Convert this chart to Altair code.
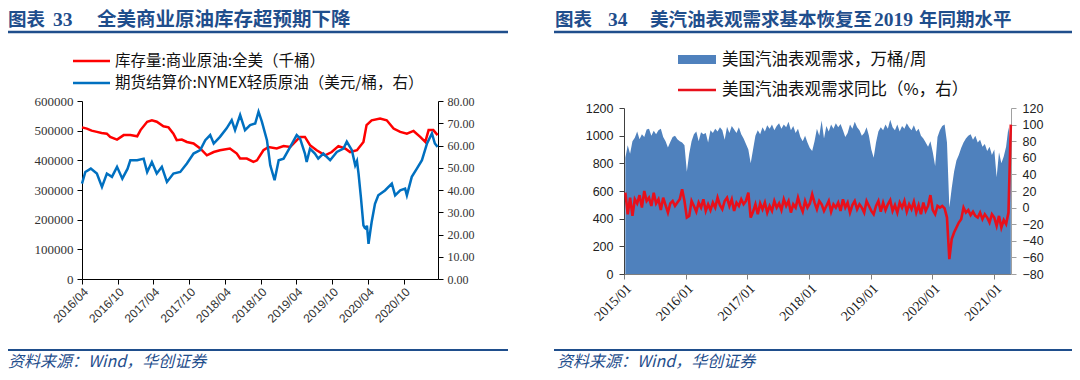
import altair as alt
import pandas as pd

# ---------------- left panel data ----------------
inv_dates = ["2016-04-01", "2016-04-26", "2016-05-20", "2016-06-16", "2016-07-10", "2016-08-06",
             "2016-08-23", "2016-09-27", "2016-10-31", "2016-12-04", "2017-01-08", "2017-01-25",
             "2017-02-28", "2017-03-24", "2017-04-18", "2017-05-22", "2017-06-17", "2017-07-12",
             "2017-07-29", "2017-08-24", "2017-09-19", "2017-10-23", "2017-11-26", "2017-12-30",
             "2018-02-03", "2018-03-07", "2018-04-27", "2018-06-01", "2018-06-18", "2018-07-22",
             "2018-08-25", "2018-09-12", "2018-10-15", "2018-11-10", "2018-12-22", "2019-01-26",
             "2019-03-01", "2019-04-20", "2019-05-15", "2019-06-10", "2019-07-14", "2019-08-26",
             "2019-09-29", "2019-11-02", "2019-12-06", "2020-01-01", "2020-02-05", "2020-03-09",
             "2020-03-25", "2020-04-20", "2020-06-02", "2020-07-06", "2020-08-10", "2020-09-13",
             "2020-10-17", "2020-11-20", "2020-12-24", "2021-01-19", "2021-02-05", "2021-03-01",
             "2021-03-23"]
inv_vals = [511000, 507000, 500000, 496000, 492000, 490000,
            479000, 470000, 485000, 485000, 481000, 502000,
            530000, 535000, 530000, 515000, 511000, 490000,
            468000, 470000, 462000, 457000, 440000, 417000,
            428000, 434000, 440000, 423000, 406000, 406000,
            395000, 400000, 434000, 445000, 440000, 448000,
            445000, 479000, 479000, 451000, 434000, 417000,
            428000, 448000, 440000, 428000, 434000, 462000,
            519000, 535000, 541000, 535000, 507000, 496000,
            490000, 499000, 479000, 462000, 502000, 502000,
            485000]

wti_dates = ["2016-04-01", "2016-04-18", "2016-05-16", "2016-06-16", "2016-07-12", "2016-08-06",
             "2016-09-01", "2016-09-27", "2016-10-24", "2016-11-20", "2016-12-04", "2017-01-08",
             "2017-02-10", "2017-02-28", "2017-03-24", "2017-04-18", "2017-05-14", "2017-06-09",
             "2017-07-12", "2017-08-16", "2017-09-19", "2017-10-23", "2017-11-26", "2017-12-22",
             "2018-01-16", "2018-02-03", "2018-03-07", "2018-04-10", "2018-05-06", "2018-05-23",
             "2018-06-18", "2018-07-13", "2018-08-08", "2018-09-03", "2018-09-20", "2018-10-07",
             "2018-11-02", "2018-11-19", "2018-12-11", "2019-01-01", "2019-01-26", "2019-03-01",
             "2019-04-03", "2019-04-20", "2019-05-15", "2019-05-24", "2019-06-10", "2019-07-05",
             "2019-07-22", "2019-08-17", "2019-09-21", "2019-10-25", "2019-11-28", "2019-12-15",
             "2020-01-10", "2020-01-27", "2020-02-05", "2020-02-13", "2020-02-25", "2020-03-09",
             "2020-03-16", "2020-03-22", "2020-03-27", "2020-04-04", "2020-04-14", "2020-04-20",
             "2020-05-07", "2020-05-24", "2020-06-27", "2020-08-01", "2020-08-18", "2020-09-13",
             "2020-10-08", "2020-10-17", "2020-11-11", "2020-12-07", "2021-01-02", "2021-01-28",
             "2021-02-22", "2021-03-09", "2021-03-23"]
wti_vals = [42.9, 48.1, 49.6, 47.4, 41.4, 47.4,
            45.9, 50.4, 45.1, 49.6, 53.4, 53.4,
            54.1, 48.1, 52.6, 47.4, 50.4, 43.6,
            47.4, 48.1, 51.9, 56.4, 57.9, 62.4,
            64.7, 60.9, 63.9, 67.7, 71.4, 66.9,
            73.7, 66.9, 69.2, 69.9, 75.2, 70.7,
            62.4, 51.1, 44.4, 53.4, 54.1, 59.4,
            64.7, 63.2, 56.4, 52.6, 58.6, 56.4,
            54.1, 56.4, 53.4, 57.1, 58.6, 61.7,
            57.9, 51.1, 53.0, 47.4, 36.8, 24.1,
            23.0, 22.6, 24.0, 15.8, 22.0, 25.6,
            33.8, 37.6, 39.8, 42.9, 37.6, 39.8,
            40.6, 37.6, 45.9, 49.6, 53.4, 60.9,
            65.4, 60.9, 59.4]

left_ticks = ["2016-04", "2016-10", "2017-04", "2017-10", "2018-04",
              "2018-10", "2019-04", "2019-10", "2020-04", "2020-10"]

# ---------------- right panel data (bi-weekly, first week 2015-01-09) ----------------
gas_start = "2015-01-09"
gas_demand = [
    840, 930, 870, 960, 985, 1030, 975, 1010, 990, 1045, 1050, 1000, 1035, 1010, 1040, 1050,
    990, 960, 915, 955, 990, 1000, 975, 960, 950, 930, 740,
    870, 960, 1010, 1030, 960, 1025, 1010, 1020, 950, 1040, 1020, 1050, 1030, 1060, 1040, 970,
    1065, 1020, 1070, 1045, 1020, 1060, 1010, 980, 940, 900, 800,
    900, 1000, 1040, 1010, 1060, 1030, 1075, 1050, 1080, 1040, 1070, 1090, 1050, 1080, 1060,
    1100, 1040, 1070, 1020, 1050, 990, 960, 1000, 950, 910,
    890, 960, 1050, 1000, 1110, 980, 1070, 1030, 1080, 1050, 1090, 1060, 1085, 1040, 990,
    1020, 1080, 1050, 1100, 1060, 1040, 1000, 1020, 1060, 1000, 900, 840,
    950, 1030, 1060, 1040, 1080, 1050, 1115, 1060, 1040, 1080, 1030, 1070, 1050, 1090, 1060,
    1040, 1075, 1030, 1050, 1000, 980, 950, 920, 960, 880, 780,
    990, 1040, 1070, 1080, 950, 480, 620, 740, 820, 860, 910, 950, 980, 1000, 1010, 970,
    1000, 950, 970, 920, 940, 890, 920, 860, 900, 700, 880, 800, 850, 920, 1060, 900]
gas_yoy = [
    18, -8, 12, -10, 10, 5, 15, 0, 20, 8, 12, 2, 18, 5, 10, -3, 12, 3, -6, 5, 8, 2, 6, 10, 22, 8, -12,
    -10, 8, 2, -5, 6, 0, 10, -4, 4, -3, 6, 0, 12, 3, -2, 8, 12, 2, 10, -4, 6, 2, 10, 4, 8, 18, -12,
    -5, 4, -8, 5, -2, 6, -6, 2, -4, 8, 0, 5, -3, 10, 2, 8, -6, 4, 0, 12, 2, -5, 8, 0, 5,
    16, 6, -2, 8, 4, -4, 2, 8, -5, 4, 0, 6, -4, 10, 0, 6, -6, 3, 8, -2, 4, 0, -6, 8, 2, -4, -8,
    2, 8, -5, 6, -3, 4, 9, -4, 3, -6, 6, 0, 8, -5, 4, -2, 7, -6, 3, -8, 6, -4, 2, 15, -3, -8,
    2, 0, 2, -1, -12, -62, -38, -30, -24, -18,
    -14, 0, -6, -3, -9, -5, -10, -12, -6, -14,
    -8, -12, -18, -8, -12, -22, -10, -24, -15, -20,
    -6, 100]

right_ticks = ["2015-01", "2016-01", "2017-01", "2018-01", "2019-01", "2020-01", "2021-01"]

# ---------------- frames ----------------
df_inv = pd.DataFrame({"date": pd.to_datetime(inv_dates), "v": inv_vals})
df_wti = pd.DataFrame({"date": pd.to_datetime(wti_dates), "v": wti_vals})
gas_dates = pd.date_range(gas_start, periods=len(gas_demand), freq="14D")
df_gas = pd.DataFrame({"date": gas_dates, "d": gas_demand, "y": gas_yoy})


def dt(s):
    parts = [int(p) for p in s.split("-")]
    if len(parts) == 2:
        parts.append(1)
    return alt.DateTime(year=parts[0], month=parts[1], date=parts[2])


CJK = "Noto Sans CJK SC"
TITLE_BLUE = "#1F4E8C"
W, H = 1064, 364

# plot-area geometry (chart coordinates)
L_X0, L_X1, L_Y0, L_Y1 = 74, 430, 271, 93
R_X0, R_X1, R_Y0, R_Y1 = 616, 1003, 266, 100

common = dict(grid=False, title=None, labelFlush=False, labelOverlap=False,
              tickSize=5, tickWidth=1, domainWidth=1)

xL_scale = alt.Scale(domain=[dt("2016-04-01"), dt("2021-03-25")], range=[L_X0, L_X1])
xR_scale = alt.Scale(domain=[dt("2015-01-01"), dt("2021-04-10")], range=[R_X0, R_X1])

inv_line = alt.Chart(df_inv).mark_line(color="#FF0000", strokeWidth=2.5).encode(
    x=alt.X("date:T", scale=xL_scale,
            axis=alt.Axis(orient="bottom", offset=L_Y0 - H, values=[dt(t) for t in left_ticks],
                          format="%Y/%m", labelAngle=-45, labelAlign="right", labelBaseline="top",
                          labelFont="Liberation Sans", labelFontSize=12, labelColor="#333333",
                          domainColor="#000000", tickColor="#000000", labelPadding=2, **common)),
    y=alt.Y("v:Q", scale=alt.Scale(domain=[0, 600000], range=[L_Y0, L_Y1], nice=False, zero=False),
            axis=alt.Axis(orient="left", offset=-L_X0, values=list(range(0, 600001, 100000)),
                          format="d", labelFont="Liberation Serif", labelFontSize=13,
                          labelColor="#333333", domainColor="#000000", tickColor="#000000",
                          labelPadding=4, **common)),
)

wti_line = alt.Chart(df_wti).mark_line(color="#0070C0", strokeWidth=2.5).encode(
    x=alt.X("date:T", scale=xL_scale, axis=None),
    y=alt.Y("v:Q", scale=alt.Scale(domain=[0, 80], range=[L_Y0, L_Y1], nice=False, zero=False),
            axis=alt.Axis(orient="right", offset=L_X1 - W, values=list(range(0, 81, 10)),
                          format=".2f", labelFont="Liberation Serif", labelFontSize=12,
                          labelColor="#333333", domainColor="#000000", tickColor="#000000",
                          labelPadding=4, **common)),
)

gas_area = alt.Chart(df_gas).mark_area(color="#4F81BD", opacity=1).encode(
    x=alt.X("date:T", scale=xR_scale,
            axis=alt.Axis(orient="bottom", offset=R_Y0 - H, values=[dt(t) for t in right_ticks],
                          format="%Y/%m", labelAngle=-45, labelAlign="right", labelBaseline="top",
                          labelFont="Liberation Serif", labelFontSize=14, labelColor="#222222",
                          domainColor="#7F7F7F", tickColor="#7F7F7F", labelPadding=2, **common)),
    y=alt.Y("d:Q", scale=alt.Scale(domain=[0, 1200], range=[R_Y0, R_Y1], nice=False),
            axis=alt.Axis(orient="left", offset=-R_X0, values=list(range(0, 1201, 200)),
                          format="d", labelFont="Liberation Sans", labelFontSize=12.5,
                          labelColor="#222222", domainColor="#404040", tickColor="#404040",
                          labelPadding=6, **common)),
)

gas_line = alt.Chart(df_gas).mark_line(color="#E8101B", strokeWidth=2.6).encode(
    x=alt.X("date:T", scale=xR_scale, axis=None),
    y=alt.Y("y:Q", scale=alt.Scale(domain=[-80, 120], range=[R_Y0, R_Y1], nice=False, zero=False),
            axis=alt.Axis(orient="right", offset=R_X1 - W, values=list(range(-80, 121, 20)),
                          format="d", labelFont="Liberation Sans", labelFontSize=12.5,
                          labelColor="#222222", domainColor="#A0A0A0", tickColor="#A0A0A0",
                          labelPadding=6, **common)),
)

one = pd.DataFrame({"a": [0]})


def text(s, x, y, size, color="#111111", font=CJK, weight="normal", style="normal"):
    return alt.Chart(pd.DataFrame({"t": [s]})).mark_text(
        align="left", baseline="middle", font=font, fontSize=size, fontWeight=weight,
        fontStyle=style, color=color).encode(x=alt.value(x), y=alt.value(y), text="t:N")


def hline(x0, x1, y, color, width):
    return alt.Chart(one).mark_rule(color=color, strokeWidth=width).encode(
        x=alt.value(x0), x2=alt.value(x1), y=alt.value(y))


TY = 12
decor = [
    # titles
    text("图表", 0, TY, 18.5, TITLE_BLUE, weight="bold"),
    text("33", 45, TY, 19.5, TITLE_BLUE, font="Liberation Serif", weight="bold"),
    text("全美商业原油库存超预期下降", 89, TY, 19.5, TITLE_BLUE, weight="bold"),
    text("图表", 547, TY, 18.5, TITLE_BLUE, weight="bold"),
    text("34", 600, TY, 19.5, TITLE_BLUE, font="Liberation Serif", weight="bold"),
    text("美汽油表观需求基本恢复至", 642, TY, 18.5, TITLE_BLUE, weight="bold"),
    text("2019", 866, TY, 19.5, TITLE_BLUE, font="Liberation Serif", weight="bold"),
    text("年同期水平", 911, TY, 18.5, TITLE_BLUE, weight="bold"),
    hline(0, 500, 24, TITLE_BLUE, 2.5),
    hline(546, 1064, 24, TITLE_BLUE, 2.5),
    # left legend
    hline(65, 102, 53, "#FF0000", 2.5),
    text("库存量:商业原油:全美（千桶）", 107, 53, 15.5),
    hline(65, 102, 75, "#0070C0", 2.5),
    text("期货结算价:NYMEX轻质原油（美元/桶，右）", 107, 75, 15.5),
    # right legend
    alt.Chart(one).mark_rect(color="#4F81BD").encode(
        x=alt.value(670), x2=alt.value(708), y=alt.value(47), y2=alt.value(56)),
    text("美国汽油表观需求，万桶/周", 714, 52, 16.5),
    hline(670, 708, 82, "#E8101B", 2.5),
    text("美国汽油表观需求同比（%，右）", 714, 82, 16.5),
    # sources
    hline(0, 500, 342, TITLE_BLUE, 1.8),
    hline(546, 1064, 342, TITLE_BLUE, 1.8),
    text("资料来源：Wind，华创证券", 0, 354, 16, TITLE_BLUE, style="italic"),
    text("资料来源：Wind，华创证券", 549, 354, 16, TITLE_BLUE, style="italic"),
]

chart = alt.layer(inv_line, wti_line, gas_area, gas_line, *decor).resolve_scale(
    x="independent", y="independent"
).properties(
    width=W, height=H, autosize=alt.AutoSizeParams(type="none"), padding=0,
    background="#FFFFFF"
).configure_view(stroke=None)

chart.save("out.html", embed_options={"renderer": "svg", "actions": False})
